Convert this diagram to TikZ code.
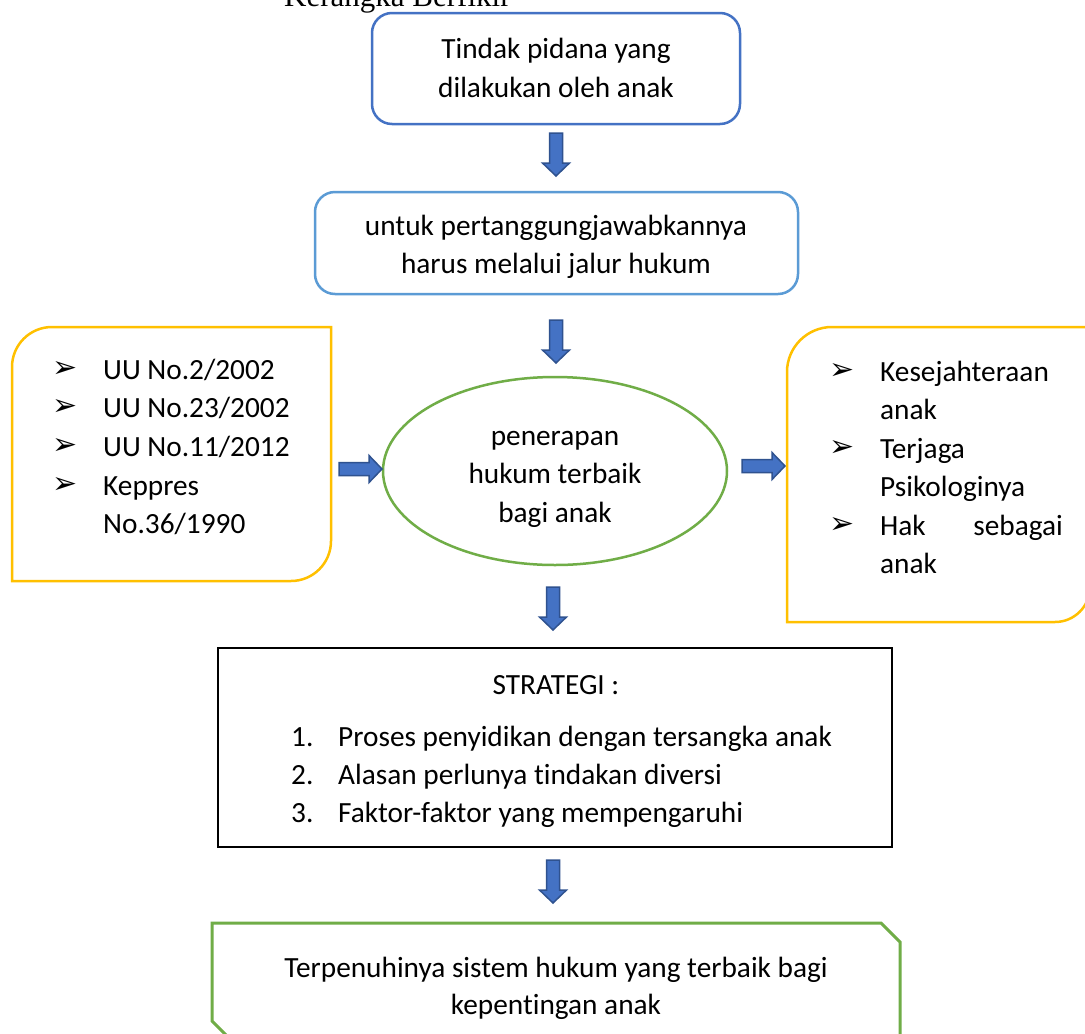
\documentclass[tikz,border=0pt]{standalone}
\usepackage{fontspec}
\setmainfont{Carlito}[Ligatures={NoCommon}]
\newfontfamily\titlefont{Liberation Serif}
\newfontfamily\symfont{DejaVu Sans}
\usetikzlibrary{shapes.geometric}
\definecolor{blueA}{HTML}{4472C4}
\definecolor{blueB}{HTML}{5B9BD5}
\definecolor{greenA}{HTML}{70AD47}
\definecolor{yellowA}{HTML}{FFC000}
\definecolor{arrfill}{HTML}{4472C4}
\definecolor{arredge}{HTML}{2F528F}
\begin{document}
\begin{tikzpicture}[x=1pt,y=-1pt]
\tikzset{
 txt/.style={font=\fontsize{29.3}{37.5}\selectfont, inner sep=0pt, text=black},
 blk/.style={fill=arrfill, draw=arredge, line width=1.5pt},
 darr/.pic={\path[blk] (-6.5,0) -- (6.5,0) -- (6.5,30) -- (13.5,30) -- (0,43) -- (-13.5,30) -- (-6.5,30) -- cycle;},
 rarr/.pic={\path[blk] (0,-6.5) -- (30,-6.5) -- (30,-13.5) -- (43,0) -- (30,13.5) -- (30,6.5) -- (0,6.5) -- cycle;},
 bul/.style={font=\symfont\fontsize{30}{30}\selectfont, inner sep=0pt},
 ybox/.style={draw=yellowA, line width=2.5pt},
}
\useasboundingbox (0,0) rectangle (1085,1034);
\clip (0,0) rectangle (1085,1034);
\fill[white] (0,0) rectangle (1085,1034);

% title
\node[anchor=base west, inner sep=0pt, font=\titlefont\fontsize{31}{36}\selectfont] (title) at (284,6) {Kerangka Berfikir};

% box 1
\node[draw=blueA, line width=2.5pt, rounded corners=20pt, minimum width=368pt, minimum height=111pt] (box1) at (556,68.5) {};
\node[txt, anchor=base] (box1a) at (556,58) {Tindak pidana yang};
\node[txt, anchor=base] (box1b) at (556,97) {dilakukan oleh anak};

\pic (a1) at (556,133) {darr};

% box 2
\node[draw=blueB, line width=2.5pt, rounded corners=20pt, minimum width=483pt, minimum height=102pt] (box2) at (556.5,243) {};
\node[txt, anchor=base] (box2a) at (556,235) {untuk pertanggungjawabkannya};
\node[txt, anchor=base] (box2b) at (556,273) {harus melalui jalur hukum};

\pic (a2) at (556,320) {darr};

% ellipse
\node[draw=greenA, line width=2.5pt, ellipse, minimum width=344pt, minimum height=188pt, inner sep=0pt] (ell) at (555,471) {};
\node[txt, anchor=base] (ella) at (555,445) {penerapan};
\node[txt, anchor=base] (ellb) at (555,483) {hukum terbaik};
\node[txt, anchor=base] (ellc) at (555,522) {bagi anak};

% left box
\draw[ybox] (12,581) -- (12,367) arc[start angle=180, end angle=270, radius=40] -- (331,327) -- (331,541) arc[start angle=0, end angle=90, radius=40] -- cycle;
\node[bul] (lb1) at (65,369) {➢};
\node[bul] (lb2) at (65,407) {➢};
\node[bul] (lb3) at (65,446) {➢};
\node[bul] (lb4) at (65,485) {➢};
\node[txt, anchor=base west] (lt1) at (103,379) {UU No.2/2002};
\node[txt, anchor=base west] (lt2) at (103,417) {UU No.23/2002};
\node[txt, anchor=base west] (lt3) at (103,456) {UU No.11/2012};
\node[txt, anchor=base west] (lt4) at (103,495) {Keppres};
\node[txt, anchor=base west] (lt5) at (103,533) {No.36/1990};

\pic (al) at (339,469) {rarr};
\pic (ar) at (742,466) {rarr};

% right box
\draw[ybox] (787,622) -- (787,372) arc[start angle=180, end angle=270, radius=45] -- (1090,327) -- (1090,587) arc[start angle=0, end angle=90, radius=35] -- cycle;
\node[bul] (rb1) at (842,371) {➢};
\node[bul] (rb2) at (842,448) {➢};
\node[bul] (rb3) at (842,525) {➢};
\node[txt, anchor=base west] (rt1) at (880,381) {Kesejahteraan};
\node[txt, anchor=base west] (rt2) at (880,419) {anak};
\node[txt, anchor=base west] (rt3) at (880,458) {Terjaga};
\node[txt, anchor=base west] (rt4) at (880,496) {Psikologinya};
\node[txt, anchor=base west] (rt5) at (880,535) {Hak};
\node[txt, anchor=base east] (rt5b) at (1063,535) {sebagai};
\node[txt, anchor=base west] (rt6) at (880,573) {anak};

\pic (a3) at (553,587) {darr};

% strategi box
\node[draw=black, line width=2.5pt, minimum width=674pt, minimum height=199pt] (strat) at (555,747.5) {};
\node[txt, anchor=base] (st0) at (556,694) {STRATEGI :};
\node[txt, anchor=base west] (sn1) at (291,746) {1.};
\node[txt, anchor=base west] (sn2) at (291,784) {2.};
\node[txt, anchor=base west] (sn3) at (291,822) {3.};
\node[txt, anchor=base west] (st1) at (338,746) {Proses penyidikan dengan tersangka anak};
\node[txt, anchor=base west] (st2) at (338,784) {Alasan perlunya tindakan diversi};
\node[txt, anchor=base west] (st3) at (338,822) {Faktor-faktor yang mempengaruhi};

\pic (a4) at (553,860) {darr};

% bottom box
\draw[draw=greenA, line width=3pt] (212,923) -- (881,923) -- (900,942) -- (900,1045) -- (236,1045) -- (212,1021) -- cycle;
\node[txt, anchor=base] (bt1) at (556,977) {Terpenuhinya sistem hukum yang terbaik bagi};
\node[txt, anchor=base] (bt2) at (556,1014) {kepentingan anak};
\end{tikzpicture}
\end{document}
